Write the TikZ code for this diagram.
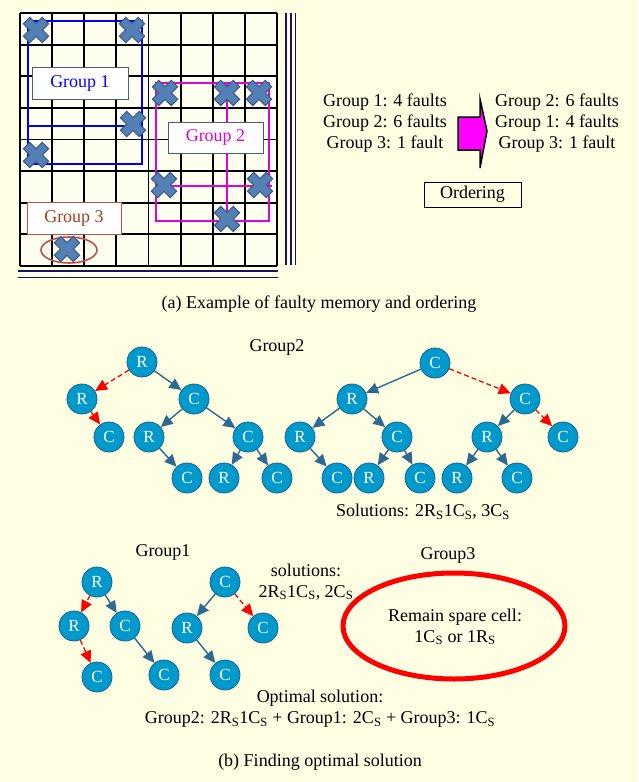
\documentclass[tikz,border=0pt]{standalone}
\usepackage{fontspec}
\setmainfont{Liberation Serif}
\usetikzlibrary{arrows.meta,shapes.geometric}

\definecolor{bgyellow}{RGB}{254,254,226}
\definecolor{navy}{RGB}{20,20,100}
\definecolor{faultfill}{RGB}{84,128,181}
\definecolor{faultedge}{RGB}{56,90,136}
\definecolor{grpblue}{RGB}{0,0,250}
\definecolor{grpmag}{RGB}{226,0,226}
\definecolor{arrowmag}{RGB}{255,0,255}
\definecolor{grpbrown}{RGB}{160,64,30}
\definecolor{boxedge}{RGB}{70,95,120}
\definecolor{brownedge}{RGB}{190,80,70}
\definecolor{vfill}{RGB}{0,153,204}
\definecolor{vedge}{RGB}{20,100,140}
\definecolor{tcol}{RGB}{45,105,145}

\newcommand\txtsize{\fontsize{18}{21}\selectfont}
\newcommand\Ssub{\textsubscript{S}}

\tikzset{
  vtx/.style={circle, draw=vedge, line width=0.8pt, fill=vfill, text=white,
    minimum size=30pt, inner sep=0pt, font=\fontsize{17}{17}\selectfont},
  tedge/.style={draw=tcol, line width=1.4pt, -{Triangle[length=12pt,width=11pt]}},
  redge/.style={draw=red, line width=1.3pt, dash pattern=on 5pt off 3pt,
    -{Triangle[length=12pt,width=11pt]}},
  lbl/.style={font=\txtsize, inner sep=0pt, align=center},
  grpbox/.style={draw, line width=0.8pt, fill=white, inner sep=0pt,
    minimum width=95pt, minimum height=32pt, font=\txtsize},
  navyline/.style={draw=navy, line width=1.8pt},
}

\begin{document}
\begin{tikzpicture}[x=1pt,y=-1pt]
% page and background
\fill[bgyellow] (0,0) rectangle (638,782);
\useasboundingbox (0,0) rectangle (638,782);

% memory array: 8 x 8 cells
\fill[bgyellow!60!white] (20,13) rectangle (277,266);
\foreach \i in {0,...,8} {
  \draw[black, line width=1.9pt] ({20+\i*32.125},13) -- ({20+\i*32.125},266);
  \draw[black, line width=1.9pt] (20,{13+\i*31.625}) -- (277,{13+\i*31.625});
}

% spare lines around the array
\foreach \xx in {286,290.7,295.4} \draw[navyline] (\xx,13) -- (\xx,265);
\foreach \yy in {271,277.5} \draw[navyline] (18,\yy) -- (278,\yy);

% group 1 outline
\draw[grpblue, line width=2.2pt] (28,21) rectangle (142,164);
\draw[grpblue, line width=2.2pt] (28,126) -- (133,126);

% group 2 outline
\draw[grpmag, line width=2.2pt] (156,83) rectangle (269,221);
\draw[grpmag, line width=2.2pt] (227,83) -- (227,221);
\draw[grpmag, line width=2.2pt] (164,186) -- (272,186);

% group 3 outline
\draw[brownedge, line width=1.6pt] (69,250) ellipse [x radius=28, y radius=13];

% faulty cells
\foreach \fx/\fy in {36/30, 132/30, 133/124, 36/155, 165/93, 227/93, 259/93,
                     164/185, 260/185, 227/219, 67/249} {
  \draw[faultedge, line width=10pt] (\fx-9.8,\fy-9.8) -- (\fx+9.8,\fy+9.8)
                                    (\fx-9.8,\fy+9.8) -- (\fx+9.8,\fy-9.8);
  \draw[faultfill, line width=7.6pt] (\fx-8.9,\fy-8.9) -- (\fx+8.9,\fy+8.9)
                                     (\fx-8.9,\fy+8.9) -- (\fx+8.9,\fy-8.9);
}

% group labels
\node[grpbox, draw=boxedge, text=grpblue, minimum width=96pt] (g1) at (80,83) {Group 1};
\node[grpbox, draw=boxedge, text=grpmag, minimum height=31pt] (g2) at (215.5,137.5) {Group 2};
\node[grpbox, draw=brownedge, text=grpbrown, minimum width=94pt] (g3) at (74,218) {Group 3};

% fault counts before and after ordering
\node[lbl] (before) at (385,123) {Group 1: 4 faults\\Group 2: 6 faults\\Group 3: 1 fault};
\node[lbl] (after) at (557,123) {Group 2: 6 faults\\Group 1: 4 faults\\Group 3: 1 fault};
\draw[fill=arrowmag, draw=black, line width=1.5pt, line join=miter]
  (458,117) -- (480,117) -- (480,99) -- (487,131) -- (480,168) -- (480,150) -- (458,150) -- cycle;
\node[draw, line width=1pt, font=\txtsize, minimum width=97pt, minimum height=25pt,
      inner sep=0pt] (ordering) at (472.5,194.5) {Ordering};

\node[lbl] (capa) at (319,304) {(a) Example of faulty memory and ordering};

% ---- group 2 search trees
\node[lbl] (g2title) at (277,347) {Group2};
\node[vtx] (a1) at (142,362) {R};
\node[vtx] (a2) at (82,399) {R};
\node[vtx] (a3) at (194,399) {C};
\node[vtx] (a4) at (109,437) {C};
\node[vtx] (a5) at (149,437) {R};
\node[vtx] (a6) at (248,437) {C};
\node[vtx] (a7) at (187,478) {C};
\node[vtx] (a8) at (224,478) {R};
\node[vtx] (a9) at (277,478) {C};
\draw[redge] (a1) -- (a2);
\draw[redge] (a2) -- (a4);
\draw[tedge] (a1) -- (a3);
\draw[tedge] (a3) -- (a5);
\draw[tedge] (a3) -- (a6);
\draw[tedge] (a5) -- (a7);
\draw[tedge] (a6) -- (a8);
\draw[tedge] (a6) -- (a9);

\node[vtx] (b1) at (435,363) {C};
\node[vtx] (b2) at (352,399) {R};
\node[vtx] (b3) at (525,399) {C};
\node[vtx] (b4) at (300,437) {R};
\node[vtx] (b5) at (397,437) {C};
\node[vtx] (b6) at (487,437) {R};
\node[vtx] (b7) at (563,437) {C};
\node[vtx] (b8) at (337,478) {C};
\node[vtx] (b9) at (369,478) {R};
\node[vtx] (b10) at (420,478) {C};
\node[vtx] (b11) at (457,478) {R};
\node[vtx] (b12) at (517,478) {C};
\draw[tedge] (b1) -- (b2);
\draw[redge] (b1) -- (b3);
\draw[tedge] (b2) -- (b4);
\draw[tedge] (b2) -- (b5);
\draw[tedge] (b4) -- (b8);
\draw[tedge] (b5) -- (b9);
\draw[tedge] (b5) -- (b10);
\draw[tedge] (b3) -- (b6);
\draw[redge] (b3) -- (b7);
\draw[tedge] (b6) -- (b11);
\draw[tedge] (b6) -- (b12);

\node[lbl] (sol2) at (423,512) {Solutions: 2R\Ssub 1C\Ssub, 3C\Ssub};

% ---- group 1 search trees
\node[lbl] (g1title) at (163,552) {Group1};
\node[vtx] (c1) at (97,582) {R};
\node[vtx] (c2) at (74,626) {R};
\node[vtx] (c3) at (125,626) {C};
\node[vtx] (c4) at (97,677) {C};
\node[vtx] (c5) at (164,675) {C};
\draw[redge] (c1) -- (c2);
\draw[tedge] (c1) -- (c3);
\draw[redge] (c2) -- (c4);
\draw[tedge] (c3) -- (c5);

\node[vtx] (d1) at (225,582) {C};
\node[vtx] (d2) at (187,628) {R};
\node[vtx] (d3) at (263,628) {C};
\node[vtx] (d4) at (225,675) {C};
\draw[tedge] (d1) -- (d2);
\draw[redge] (d1) -- (d3);
\draw[tedge] (d2) -- (d4);

\node[lbl] (sol1) at (306,582) {solutions:\\2R\Ssub 1C\Ssub, 2C\Ssub};

% ---- group 3
\node[lbl] (g3title) at (448,555) {Group3};
\draw[red, line width=5pt] (454,626) ellipse [x radius=111, y radius=53];
\node[lbl] (remain) at (455,627) {Remain spare cell:\\1C\Ssub{} or 1R\Ssub};

% ---- result
\node[lbl] (optimal) at (320,709) {Optimal solution:\\Group2: 2R\Ssub 1C\Ssub{} + Group1: 2C\Ssub{} + Group3: 1C\Ssub};
\node[lbl] (capb) at (320,762) {(b) Finding optimal solution};
\end{tikzpicture}
\end{document}
